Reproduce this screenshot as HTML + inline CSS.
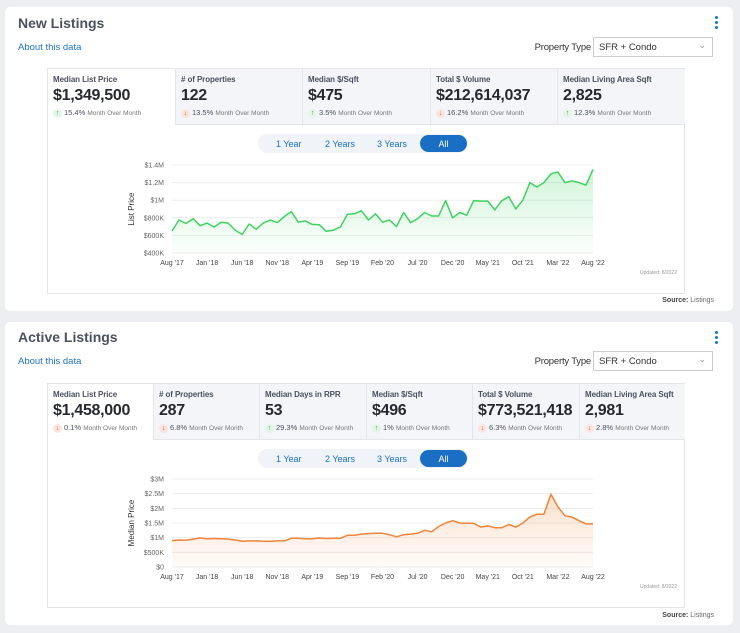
<!DOCTYPE html>
<html><head><meta charset="utf-8">
<style>
*{box-sizing:border-box;margin:0;padding:0}
body{width:740px;height:633px;background:#eceef1;font-family:"Liberation Sans",sans-serif;position:relative;overflow:hidden}
.card{position:absolute;left:5px;width:728px;background:#fff;border-radius:5px}
.abs{position:absolute}
.title{font-size:14px;font-weight:bold;color:#4a5160;left:13px}
.about{font-size:9.5px;color:#1a73c8;left:13px}
.ptype{font-size:9.5px;color:#333;width:80px;text-align:right;letter-spacing:-0.2px}
.sel{border:1px solid #ccc;width:120px;height:20px;font-size:9.5px;color:#333;padding:4px 0 0 5px;background:#fff}
.sel span{position:absolute;right:6px;top:2px;color:#999;font-size:9px}
.dots{right:15px;width:3px}
.dots i{display:block;width:3px;height:3px;border-radius:50%;background:#1a73c8;margin-bottom:2px}
.panel{border:1px solid #e3e6ea;left:42px;width:638px;background:#fff}
.tile{position:absolute;top:0;height:56px;background:#f3f5f8;border-right:1px solid #e3e6ea;border-bottom:1px solid #e3e6ea;padding:6px 0 0 5px}
.tile.act{background:#fff;border-bottom:none}
.tl{font-size:8px;font-weight:bold;color:#4a5160;letter-spacing:-0.1px}
.tv{font-size:16px;font-weight:bold;color:#262a30;margin-top:3px;letter-spacing:-0.3px}
.tc{font-size:7.5px;color:#4a5160;margin-top:3px;white-space:nowrap}
.tc small{font-size:6.5px;color:#777}
.up,.dn{display:inline-block;width:9px;height:9px;border-radius:50%;text-align:center;font-size:7px;line-height:9px;font-weight:bold;margin-right:2px}
.up{background:#e2f5e6;color:#2dae4c}.dn{background:#fbe5de;color:#e05a2b}
.pill{left:253px;width:210px;height:19px;background:#f0f3f7;border-radius:10px;font-size:9px;color:#1a73c8}
.pill span{position:absolute;top:5px}
.pill .all{left:162px;top:1px;width:47px;height:17px;background:#1a6fc4;color:#fff;border-radius:9px;text-align:center;padding-top:4px}
.src{right:19px;font-size:7px;color:#666}
.src b{color:#444}
svg text{font-family:"Liberation Sans",sans-serif}
</style></head><body>
<div class="card" style="top:7px;height:304px">
 <div class="abs title" style="top:8px">New Listings</div>
 <div class="abs dots" style="top:9px"><i></i><i></i><i></i></div>
 <div class="abs about" style="top:35px">About this data</div>
 <div class="abs ptype" style="left:506px;top:35px">Property Type</div>
 <div class="abs sel" style="left:588px;top:30px">SFR + Condo<span>&#8964;</span></div>
 <div class="abs panel" style="top:61px;height:226px">
  <div class="tile act" style="left:0;width:128px"><div class="tl">Median List Price</div><div class="tv">$1,349,500</div><div class="tc"><span class="up">↑</span>15.4% <small>Month Over Month</small></div></div>
  <div class="tile" style="left:128px;width:127px"><div class="tl"># of Properties</div><div class="tv">122</div><div class="tc"><span class="dn">↓</span>13.5% <small>Month Over Month</small></div></div>
  <div class="tile" style="left:255px;width:128px"><div class="tl">Median $/Sqft</div><div class="tv">$475</div><div class="tc"><span class="up">↑</span>3.5% <small>Month Over Month</small></div></div>
  <div class="tile" style="left:383px;width:127px"><div class="tl">Total $ Volume</div><div class="tv">$212,614,037</div><div class="tc"><span class="dn">↓</span>16.2% <small>Month Over Month</small></div></div>
  <div class="tile" style="left:510px;width:127px;border-right:none"><div class="tl">Median Living Area Sqft</div><div class="tv">2,825</div><div class="tc"><span class="up">↑</span>12.3% <small>Month Over Month</small></div></div>
 </div>
 <div class="abs pill" style="top:127px"><span style="left:18px">1 Year</span><span style="left:67px">2 Years</span><span style="left:119px">3 Years</span><span class="all">All</span></div>
 <div class="abs src" style="top:290px"><b>Source:</b> Listings</div>
</div>
<div class="card" style="top:322px;height:303px">
 <div class="abs title" style="top:7px">Active Listings</div>
 <div class="abs dots" style="top:9px"><i></i><i></i><i></i></div>
 <div class="abs about" style="top:34px">About this data</div>
 <div class="abs ptype" style="left:506px;top:34px">Property Type</div>
 <div class="abs sel" style="left:588px;top:29px">SFR + Condo<span>&#8964;</span></div>
 <div class="abs panel" style="top:61px;height:225px">
  <div class="tile act" style="left:0;width:106px"><div class="tl">Median List Price</div><div class="tv">$1,458,000</div><div class="tc"><span class="dn">↓</span>0.1% <small>Month Over Month</small></div></div>
  <div class="tile" style="left:106px;width:106px"><div class="tl"># of Properties</div><div class="tv">287</div><div class="tc"><span class="dn">↓</span>6.8% <small>Month Over Month</small></div></div>
  <div class="tile" style="left:212px;width:107px"><div class="tl">Median Days in RPR</div><div class="tv">53</div><div class="tc"><span class="up">↑</span>29.3% <small>Month Over Month</small></div></div>
  <div class="tile" style="left:319px;width:106px"><div class="tl">Median $/Sqft</div><div class="tv">$496</div><div class="tc"><span class="up">↑</span>1% <small>Month Over Month</small></div></div>
  <div class="tile" style="left:425px;width:107px"><div class="tl">Total $ Volume</div><div class="tv">$773,521,418</div><div class="tc"><span class="dn">↓</span>6.3% <small>Month Over Month</small></div></div>
  <div class="tile" style="left:532px;width:105px;border-right:none"><div class="tl">Median Living Area Sqft</div><div class="tv">2,981</div><div class="tc"><span class="dn">↓</span>2.8% <small>Month Over Month</small></div></div>
 </div>
 <div class="abs pill" style="top:127px"><span style="left:18px">1 Year</span><span style="left:67px">2 Years</span><span style="left:119px">3 Years</span><span class="all">All</span></div>
 <div class="abs src" style="top:290px"><b>Source:</b> Listings</div>
</div>
<svg id="chart" width="740" height="633" style="position:absolute;left:0;top:0">
<defs>
<linearGradient id="gg" x1="0" y1="0" x2="0" y2="1"><stop offset="0" stop-color="#34d058" stop-opacity="0.22"/><stop offset="1" stop-color="#34d058" stop-opacity="0.02"/></linearGradient>
<linearGradient id="go" x1="0" y1="0" x2="0" y2="1"><stop offset="0" stop-color="#f0843a" stop-opacity="0.25"/><stop offset="1" stop-color="#f0843a" stop-opacity="0.03"/></linearGradient>
</defs>
</svg>
<script>
const xLabels=["Aug '17","Jan '18","Jun '18","Nov '18","Apr '19","Sep '19","Feb '20","Jul '20","Dec '20","May '21","Oct '21","Mar '22","Aug '22"];
const newTicks=[400,600,800,1000,1200,1400];
const newTickLabels=["$400K","$600K","$800K","$1M","$1.2M","$1.4M"];
const newValues=[650,775,735,790,710,740,695,750,740,660,610,730,670,740,775,745,815,870,750,765,725,720,645,660,695,840,845,880,775,845,750,775,700,860,745,790,860,820,820,995,800,860,830,995,990,990,890,995,1040,900,1000,1200,1150,1200,1300,1320,1200,1220,1200,1170,1350];
const actTicks=[0,500,1000,1500,2000,2500,3000];
const actTickLabels=["$0","$500K","$1M","$1.5M","$2M","$2.5M","$3M"];
const actValues=[900,920,910,950,990,960,970,960,950,920,880,890,890,880,880,890,890,980,980,960,960,990,970,980,980,1080,1080,1120,1140,1150,1150,1100,1030,1100,1120,1150,1250,1200,1380,1500,1580,1500,1490,1490,1360,1400,1340,1340,1450,1360,1500,1700,1800,1800,2480,2050,1750,1700,1580,1470,1470];
const svg=document.getElementById('chart');
const NS='http://www.w3.org/2000/svg';
function mk(t,a){const e=document.createElementNS(NS,t);for(const k in a)e.setAttribute(k,a[k]);svg.appendChild(e);return e;}
function draw(o){
 const x0=172,x1=593,n=o.values.length;
 const xs=i=>x0+(x1-x0)*i/(n-1);
 const ys=v=>o.yb-(v-o.min)/(o.max-o.min)*(o.yb-o.yt);
 o.ticks.forEach((t,i)=>{
  const g=mk('line',{x1:x0,x2:x1,y1:ys(t),y2:ys(t),stroke:'#ececec','stroke-width':1});
  
  
  const l=mk('text',{x:164,y:ys(t)+2.5,'text-anchor':'end','font-size':7,fill:'#666'});
  l.textContent=o.tickLabels[i];
  
  
 });
 xLabels.forEach((s,i)=>{
  const t=mk('text',{x:xs(i*5),y:o.yb+12,'text-anchor':'middle','font-size':7,fill:'#444'});
  t.textContent=s;
  
  
 });
 let d='';o.values.forEach((v,i)=>{d+=(i?'L':'M')+xs(i).toFixed(1)+','+ys(v).toFixed(1);});
 const a=mk('path',{d:d+'L'+x1+','+o.yb+'L'+x0+','+o.yb+'Z',fill:o.fill});
 
 
 const p=mk('path',{d:d,fill:'none',stroke:o.color,'stroke-width':1.5,'stroke-linejoin':'round'});
 
 
 const yt=mk('text',{x:0,y:0,'font-size':8,fill:'#333','text-anchor':'middle',transform:'translate('+o.tx+','+((o.yt+o.yb)/2)+') rotate(-90)'});
 yt.textContent=o.title;
 
 
 const u=mk('text',{x:677,y:o.yb+21,'text-anchor':'end','font-size':5,fill:'#999'});
 u.textContent='Updated: 8/2022';
 
 
}
draw({values:newValues,ticks:newTicks,tickLabels:newTickLabels,min:400,max:1400,yt:165,yb:253,color:'#3ed35f',fill:'url(#gg)',title:'List Price',tx:134});
draw({values:actValues,ticks:actTicks,tickLabels:actTickLabels,min:0,max:3000,yt:479,yb:567,color:'#f0843a',fill:'url(#go)',title:'Median Price',tx:134});
</script>
</body></html>
